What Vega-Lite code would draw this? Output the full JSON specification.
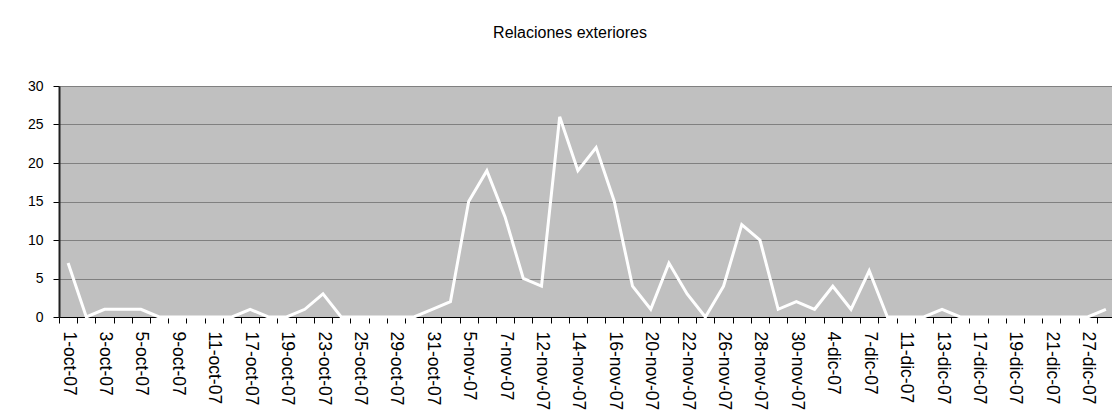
{
  "$schema": "https://vega.github.io/schema/vega-lite/v6.json",
  "width": 1056,
  "height": 231,
  "padding": {"left": 0, "top": 25, "right": 0, "bottom": 0},
  "background": "white",
  "title": {
    "text": "Relaciones exteriores",
    "font": "Liberation Sans",
    "fontSize": 16,
    "fontWeight": "normal",
    "color": "#000000",
    "anchor": "middle",
    "dx": -17,
    "offset": 38
  },
  "data": {
    "values": [
      {"d": "1-oct-07", "v": 7},
      {"d": "2-oct-07", "v": 0},
      {"d": "3-oct-07", "v": 1},
      {"d": "4-oct-07", "v": 1},
      {"d": "5-oct-07", "v": 1},
      {"d": "8-oct-07", "v": 0},
      {"d": "9-oct-07", "v": 0},
      {"d": "10-oct-07", "v": 0},
      {"d": "11-oct-07", "v": 0},
      {"d": "16-oct-07", "v": 0},
      {"d": "17-oct-07", "v": 1},
      {"d": "18-oct-07", "v": 0},
      {"d": "19-oct-07", "v": 0},
      {"d": "22-oct-07", "v": 1},
      {"d": "23-oct-07", "v": 3},
      {"d": "24-oct-07", "v": 0},
      {"d": "25-oct-07", "v": 0},
      {"d": "26-oct-07", "v": 0},
      {"d": "29-oct-07", "v": 0},
      {"d": "30-oct-07", "v": 0},
      {"d": "31-oct-07", "v": 1},
      {"d": "2-nov-07", "v": 2},
      {"d": "5-nov-07", "v": 15},
      {"d": "6-nov-07", "v": 19},
      {"d": "7-nov-07", "v": 13},
      {"d": "9-nov-07", "v": 5},
      {"d": "12-nov-07", "v": 4},
      {"d": "13-nov-07", "v": 26},
      {"d": "14-nov-07", "v": 19},
      {"d": "15-nov-07", "v": 22},
      {"d": "16-nov-07", "v": 15},
      {"d": "19-nov-07", "v": 4},
      {"d": "20-nov-07", "v": 1},
      {"d": "21-nov-07", "v": 7},
      {"d": "22-nov-07", "v": 3},
      {"d": "23-nov-07", "v": 0},
      {"d": "26-nov-07", "v": 4},
      {"d": "27-nov-07", "v": 12},
      {"d": "28-nov-07", "v": 10},
      {"d": "29-nov-07", "v": 1},
      {"d": "30-nov-07", "v": 2},
      {"d": "3-dic-07", "v": 1},
      {"d": "4-dic-07", "v": 4},
      {"d": "5-dic-07", "v": 1},
      {"d": "7-dic-07", "v": 6},
      {"d": "10-dic-07", "v": 0},
      {"d": "11-dic-07", "v": 0},
      {"d": "12-dic-07", "v": 0},
      {"d": "13-dic-07", "v": 1},
      {"d": "14-dic-07", "v": 0},
      {"d": "17-dic-07", "v": 0},
      {"d": "18-dic-07", "v": 0},
      {"d": "19-dic-07", "v": 0},
      {"d": "20-dic-07", "v": 0},
      {"d": "21-dic-07", "v": 0},
      {"d": "26-dic-07", "v": 0},
      {"d": "27-dic-07", "v": 0},
      {"d": "28-dic-07", "v": 1}
    ]
  },
  "mark": {"type": "line", "color": "#FFFFFF", "strokeWidth": 3, "strokeJoin": "miter"},
  "encoding": {
    "x": {
      "field": "d",
      "type": "nominal",
      "sort": null,
      "bandPosition": 0.5,
      "scale": {"type": "band", "paddingInner": 0, "paddingOuter": 0},
      "axis": {
        "title": null,
        "labelAngle": 90,
        "labelAlign": "left",
        "labelBaseline": "middle",
        "labelFont": "Liberation Sans",
        "labelFontSize": 17.5,
        "labelColor": "#000000",
        "labelPadding": 8,
        "labelOverlap": false,
        "labelFlush": false,
        "labelExpr": "indexof(['1-oct-07','3-oct-07','5-oct-07','9-oct-07','11-oct-07','17-oct-07','19-oct-07','23-oct-07','25-oct-07','29-oct-07','31-oct-07','5-nov-07','7-nov-07','12-nov-07','14-nov-07','16-nov-07','20-nov-07','22-nov-07','26-nov-07','28-nov-07','30-nov-07','4-dic-07','7-dic-07','11-dic-07','13-dic-07','17-dic-07','19-dic-07','21-dic-07','27-dic-07'], datum.value) >= 0 ? datum.value : ''",
        "tickBand": "extent",
        "tickSize": 6,
        "tickColor": "#000000",
        "tickWidth": 1,
        "domainColor": "#000000",
        "domainWidth": 1,
        "grid": false
      }
    },
    "y": {
      "field": "v",
      "type": "quantitative",
      "scale": {"domain": [0, 30], "nice": false, "zero": true},
      "axis": {
        "title": null,
        "values": [0, 5, 10, 15, 20, 25, 30],
        "labelFont": "Liberation Sans",
        "labelFontSize": 14,
        "labelColor": "#000000",
        "labelPadding": 10,
        "tickSize": 6,
        "tickColor": "#000000",
        "tickWidth": 1,
        "domainColor": "#202020",
        "domainWidth": 2,
        "grid": true,
        "gridColor": "#808080",
        "gridWidth": 1,
        "gridOpacity": 1,
        "minExtent": 59,
        "maxExtent": 59
      }
    }
  },
  "config": {
    "view": {"fill": "#C0C0C0", "stroke": null}
  }
}
